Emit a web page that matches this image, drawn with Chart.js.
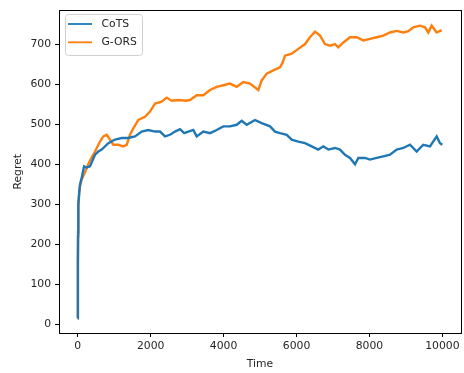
<!DOCTYPE html>
<html>
<head>
<meta charset="utf-8">
<script src="https://cdn.jsdelivr.net/npm/chart.js@4"></script>
<style>
  body { margin: 0; background: #fff; }
  canvas { display: block; }
</style>
</head>
<body>
<canvas id="regretChart" width="464" height="373"></canvas>
<script>
// Values
const cotsTime = [0, 5, 10, 17, 40, 63, 110, 173, 250, 337, 475, 565, 657, 840, 1023, 1206, 1388, 1571, 1755, 1936, 2120, 2257, 2394, 2531, 2668, 2805, 2920, 3033, 3170, 3263, 3444, 3628, 3811, 3992, 4176, 4360, 4497, 4634, 4862, 5045, 5273, 5410, 5547, 5731, 5868, 6049, 6233, 6416, 6597, 6734, 6872, 7055, 7192, 7329, 7466, 7604, 7695, 7878, 8015, 8198, 8380, 8563, 8747, 8928, 9111, 9294, 9476, 9660, 9843, 9934, 10000];
const cotsRegret = [15, 150, 230, 300, 330, 350, 366, 395, 392, 395, 424, 432, 437, 453, 462, 466, 466, 470, 482, 486, 482, 482, 470, 474, 482, 488, 478, 482, 486, 470, 482, 478, 486, 495, 495, 499, 509, 499, 511, 503, 495, 482, 478, 474, 462, 457, 453, 445, 437, 445, 437, 441, 437, 424, 416, 400, 416, 416, 412, 416, 420, 424, 437, 441, 449, 432, 449, 445, 470, 453, 449];

const goresTime = [0, 5, 10, 17, 40, 63, 110, 200, 300, 400, 475, 611, 702, 795, 886, 976, 1113, 1250, 1343, 1434, 1525, 1662, 1845, 1982, 2120, 2303, 2440, 2577, 2760, 2960, 3079, 3263, 3444, 3628, 3811, 3992, 4176, 4360, 4541, 4724, 4952, 5045, 5183, 5363, 5547, 5620, 5684, 5868, 6049, 6233, 6369, 6507, 6644, 6781, 6918, 7055, 7146, 7283, 7466, 7650, 7831, 8015, 8198, 8380, 8563, 8747, 8928, 9065, 9202, 9386, 9523, 9613, 9706, 9843, 9981];
const goresRegret = [15, 140, 220, 295, 325, 345, 362, 380, 403, 420, 432, 457, 470, 474, 462, 449, 449, 445, 449, 474, 490, 511, 519, 532, 552, 557, 567, 559, 561, 559, 561, 573, 573, 586, 594, 598, 602, 594, 606, 602, 586, 610, 627, 635, 643, 655, 672, 677, 689, 701, 718, 732, 722, 701, 697, 701, 693, 705, 718, 718, 710, 714, 718, 722, 730, 734, 730, 733, 743, 747, 743, 730, 747, 730, 736];

const xTicks = [0, 2000, 4000, 6000, 8000, 10000];
const yTicks = [0, 100, 200, 300, 400, 500, 600, 700];

const textColor = "#262626";
const tickFont = { family: "DejaVu Sans", size: 10.8 };

function toPoints(xs, ys) {
  return xs.map((x, i) => ({ x: x, y: ys[i] }));
}

// Frame round the plot area, like matplotlib spines
const framePlugin = {
  id: "frame",
  afterDatasetsDraw(chart) {
    const { ctx, chartArea: a } = chart;
    ctx.save();
    ctx.strokeStyle = "#000";
    ctx.lineWidth = 1;
    ctx.strokeRect(Math.round(a.left) + 0.5, Math.round(a.top) + 0.5,
      Math.round(a.right - a.left), Math.round(a.bottom - a.top));
    ctx.restore();
  },
};

// Legend drawn inside the upper left corner
const innerLegend = {
  id: "innerLegend",
  afterDraw(chart) {
    const { ctx } = chart;
    const x = 65, y = 14, w = 77, h = 41;
    ctx.save();
    ctx.fillStyle = "rgba(255,255,255,0.8)";
    ctx.strokeStyle = "#d0d0d0";
    ctx.lineWidth = 1;
    ctx.beginPath();
    ctx.roundRect(x + 0.5, y + 0.5, w, h, 3);
    ctx.fill();
    ctx.stroke();
    ctx.font = "10.8px 'DejaVu Sans'";
    ctx.textBaseline = "middle";
    chart.data.datasets.forEach((ds, i) => {
      const rowY = 24 + i * 18.3;
      ctx.strokeStyle = ds.borderColor;
      ctx.lineWidth = 1.8;
      ctx.beginPath();
      ctx.moveTo(68, rowY);
      ctx.lineTo(92, rowY);
      ctx.stroke();
      ctx.fillStyle = textColor;
      ctx.fillText(ds.label, 101.5, rowY);
    });
    ctx.restore();
  },
};

const chart = new Chart(document.getElementById("regretChart"), {
  type: "line",
  data: {
    datasets: [
      {
        label: "CoTS",
        data: toPoints(cotsTime, cotsRegret),
        borderColor: "#1f77b4",
        borderWidth: 2.4,
        pointRadius: 0,
        tension: 0,
        fill: false,
      },
      {
        label: "G-ORS",
        data: toPoints(goresTime, goresRegret),
        borderColor: "#ff7f0e",
        borderWidth: 2.4,
        pointRadius: 0,
        tension: 0,
        fill: false,
      },
    ],
  },
  options: {
    responsive: false,
    animation: false,
    layout: { padding: { left: 0, right: 3, top: 8, bottom: 0 } },
    plugins: {
      legend: { display: false },
      tooltip: { enabled: false },
    },
    scales: {
      x: {
        type: "linear",
        min: -513,
        max: 10510,
        afterBuildTicks: (scale) => { scale.ticks = xTicks.map((v) => ({ value: v })); },
        afterFit: (scale) => { scale.height = 40; },
        grid: { drawOnChartArea: false, drawTicks: true, tickLength: 4, tickColor: "#000" },
        border: { display: true, color: "#000" },
        ticks: { color: textColor, font: tickFont, padding: 3, maxRotation: 0, callback: (v) => String(v) },
        title: {
          display: true,
          text: "Time",
          color: textColor,
          font: tickFont,
          padding: { top: 0, bottom: 2 },
        },
      },
      y: {
        type: "linear",
        min: -22,
        max: 785,
        afterBuildTicks: (scale) => { scale.ticks = yTicks.map((v) => ({ value: v })); },
        afterFit: (scale) => { scale.width = 59; },
        grid: { drawOnChartArea: false, drawTicks: true, tickLength: 4, tickColor: "#000" },
        border: { display: true, color: "#000" },
        ticks: { color: textColor, font: tickFont, padding: 4, callback: (v) => String(v) },
        title: {
          display: true,
          text: "Regret",
          color: textColor,
          font: tickFont,
          padding: { top: 12, bottom: 0 },
        },
      },
    },
  },
  plugins: [framePlugin, innerLegend],
});
</script>
</body>
</html>
